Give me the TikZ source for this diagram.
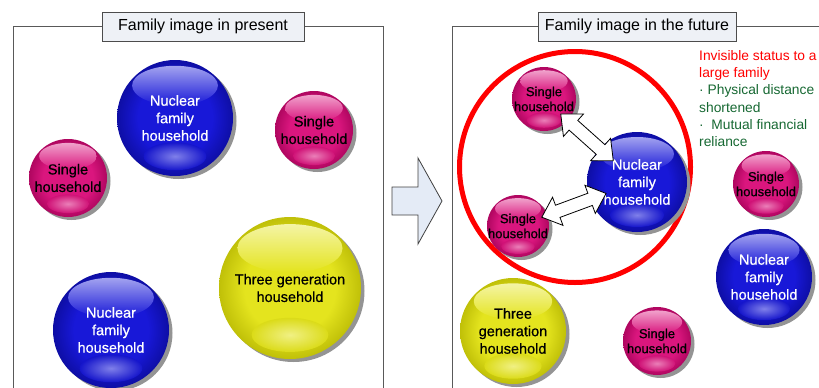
\documentclass[tikz,border=0pt]{standalone}
\usepackage{fontspec}
\setmainfont{Liberation Sans}
\newfontfamily\ballfont[FakeBold=0.6]{Liberation Sans}
\usetikzlibrary{calc}

% ball colours
\definecolor{pinkmid}{RGB}{218,22,126}
\definecolor{pinkedge}{RGB}{176,6,96}
\definecolor{bluemid}{RGB}{24,24,216}
\definecolor{blueedge}{RGB}{14,14,165}
\definecolor{yellowmid}{RGB}{228,228,30}
\definecolor{yellowedge}{RGB}{192,192,8}
\definecolor{panelfill}{RGB}{238,241,246}
\definecolor{arrowfill}{RGB}{228,235,246}
\definecolor{notegreen}{RGB}{22,104,50}

% the sphere's rim lies at 25bp of these shadings
\pgfdeclareradialshading{pinkball}{\pgfpoint{0bp}{0bp}}{color(0bp)=(pinkmid); color(16bp)=(pinkmid); color(25bp)=(pinkedge); color(50bp)=(pinkedge)}
\pgfdeclareradialshading{blueball}{\pgfpoint{0bp}{0bp}}{color(0bp)=(bluemid); color(16bp)=(bluemid); color(25bp)=(blueedge); color(50bp)=(blueedge)}
\pgfdeclareradialshading{yellowball}{\pgfpoint{0bp}{0bp}}{color(0bp)=(yellowmid); color(16bp)=(yellowmid); color(25bp)=(yellowedge); color(50bp)=(yellowedge)}

\tikzset{
  frame/.style={draw=black!65, line width=0.9pt},
  titlebox/.style={draw=black!70, line width=0.9pt, fill=panelfill, minimum height=29pt,
    inner sep=0pt, font=\fontsize{16}{19}\selectfont},
  ballshadow/.style={fill=black!42},
  balltext/.style={circle, inner sep=0pt, align=center},
  bigtxt/.style={font=\ballfont\fontsize{14.5}{17.5}\selectfont},
  smalltxt/.style={font=\ballfont\fontsize{13}{15}\selectfont},
  dblarrow/.style={draw=black, line width=0.8pt, fill=white, line join=miter},
}

% glossy sphere with shadow:
% #1 node name, #2 colour family, #3 centre, #4 diameter, #5 text style, #6 text
\newcommand\sphere[6]{%
  \begin{scope}[shift={(#3)}]
    \fill[ballshadow] (3.5,3) circle [radius={#4/2*1pt}];
    \shade[shading=#2ball] (0,0) circle [radius={#4/2*1pt}];
    \shade[top color=#2mid!40!white, bottom color=#2mid]
      (0,{-0.28*#4}) ellipse [x radius={0.37*#4*1pt}, y radius={0.17*#4*1pt}];
    \shade[inner color=#2mid!55!white, outer color=#2mid!75!#2edge]
      (0,{0.33*#4}) ellipse [x radius={0.27*#4*1pt}, y radius={0.12*#4*1pt}];
    \node[balltext, minimum size=#4pt, #5] (#1) at (0,0) {#6};
  \end{scope}}

% two-headed block arrow between two points
\newcommand\blockarrow[2]{%
  \path (#1) coordinate (ba-s) ($(#1)!17pt!(#2)$) coordinate (ba-a)
        ($(#2)!17pt!(#1)$) coordinate (ba-b) (#2) coordinate (ba-e);
  \draw[dblarrow] (ba-s)
    -- ($(ba-a)!15pt!90:(ba-e)$) -- ($(ba-a)!6.5pt!90:(ba-e)$)
    -- ($(ba-b)!6.5pt!-90:(ba-s)$) -- ($(ba-b)!15pt!-90:(ba-s)$)
    -- (ba-e)
    -- ($(ba-b)!15pt!90:(ba-s)$) -- ($(ba-b)!6.5pt!90:(ba-s)$)
    -- ($(ba-a)!6.5pt!-90:(ba-e)$) -- ($(ba-a)!15pt!-90:(ba-e)$)
    -- cycle;}

\begin{document}
\begin{tikzpicture}[x=1pt, y=-1pt]
\useasboundingbox (0,0) rectangle (819,388);

% panel frames and titles
\draw[frame] (13,388) -- (13,26) -- (383,26) -- (383,388);
\draw[frame] (452,388) -- (452,26) -- (819,26);
\node[titlebox, minimum width=202pt] (tpresent) at (203,26.5) {Family image in present};
\node[titlebox, minimum width=198pt] (tfuture) at (637,26.5) {Family image in the future};

% transition arrow between the panels
\draw[draw=black!75, line width=0.8pt, fill=arrowfill, line join=miter]
  (392,187) -- (418,187) -- (418,158) -- (442,201) -- (418,244)
  -- (418,215) -- (392,215) -- cycle;

% present
\sphere{pnuc1}{blue}{175,118}{116}{bigtxt,text=white}{Nuclear\\family\\household}
\sphere{psing1}{pink}{314,130}{78}{bigtxt,text=black}{Single\\household}
\sphere{psing2}{pink}{68,178}{78}{bigtxt,text=black}{Single\\household}
\sphere{pnuc2}{blue}{111,330}{116}{bigtxt,text=white}{Nuclear\\family\\household}
\sphere{pthree}{yellow}{290,288}{142}{bigtxt,text=black}{Three generation\\household}

% future
\node[draw=red, line width=5pt, circle, inner sep=0pt, minimum size=231pt] (group) at (575,167) {};
\sphere{fsingtop}{pink}{544,99}{64}{smalltxt,text=black}{Single\\household}
\sphere{fnuc}{blue}{637,182}{100}{bigtxt,text=white}{Nuclear\\family\\household}
\sphere{fsinglow}{pink}{518,226}{62}{smalltxt,text=black}{Single\\household}
\sphere{fsingright}{pink}{766,184}{66}{smalltxt,text=black}{Single\\household}
\sphere{fnucright}{blue}{764,277}{96}{bigtxt,text=white}{Nuclear\\family\\household}
\sphere{fthree}{yellow}{513,331}{106}{bigtxt,text=black}{Three\\generation\\household}
\sphere{fsingbot}{pink}{657,341}{68}{smalltxt,text=black}{Single\\household}

\blockarrow{$(fsingtop)!0.18!(fnuc)$}{$(fsingtop)!0.745!(fnuc)$}
\blockarrow{$(fsinglow)!0.2!(fnuc)$}{$(fsinglow)!0.74!(fnuc)$}

\node[anchor=north west, inner sep=0pt, align=left, font=\fontsize{13.8}{17.3}\selectfont]
  (note) at (699,50)
  {\color{red}Invisible status to a\\\color{red}large family\\
   \color{notegreen}· Physical distance\\\color{notegreen}shortened\\
   \color{notegreen}·\hspace{0.55em}Mutual financial\\\color{notegreen}reliance};
\end{tikzpicture}
\end{document}
